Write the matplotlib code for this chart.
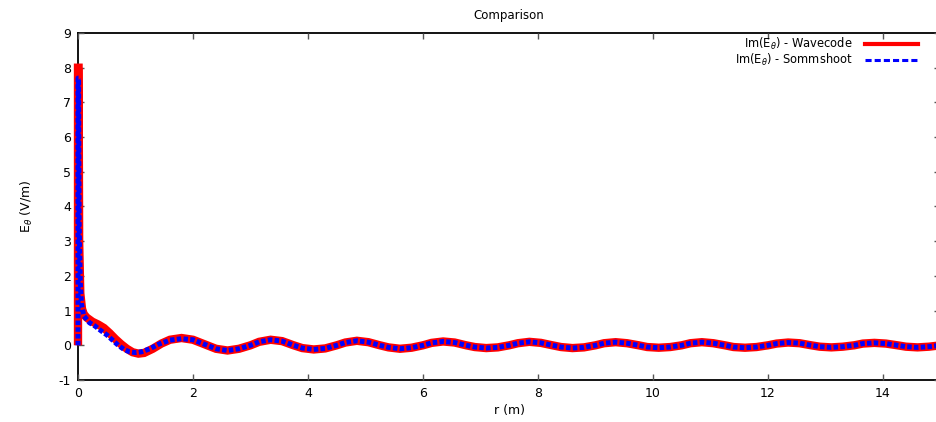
import matplotlib
matplotlib.use("Agg")
from matplotlib import pyplot as plt
from matplotlib.lines import Line2D

# Near-field part (r < 2 m), the two codes differ a bit here
r_wave_head = [0.0, 0.0, 0.01, 0.02, 0.04, 0.07, 0.1, 0.15, 0.25, 0.35, 0.45,
               0.55, 0.65, 0.75, 0.85, 0.95, 1.05, 1.15, 1.3, 1.45, 1.6, 1.8]
e_wave_head = [0.0, 8.0, 8.0, 3.0, 1.5, 1.05, 0.9, 0.8, 0.68, 0.6, 0.5,
               0.35, 0.18, 0.03, -0.1, -0.2, -0.24, -0.22, -0.1, 0.05, 0.16, 0.21]

r_somm_head = [0.0, 0.0, 0.01, 0.02, 0.04, 0.06, 0.1, 0.2, 0.3, 0.4, 0.5,
               0.6, 0.7, 0.8, 0.9, 1.0, 1.1, 1.25, 1.4, 1.6, 1.8]
e_somm_head = [0.0, 7.7, 7.7, 3.5, 1.8, 1.2, 0.85, 0.65, 0.55, 0.42, 0.3,
               0.15, 0.0, -0.12, -0.19, -0.21, -0.19, -0.1, 0.03, 0.15, 0.19]

# Far part (r >= 2 m), both curves lie on top of each other
r_tail = [2.0, 2.2, 2.4, 2.6, 2.8, 3.0, 3.15, 3.35, 3.55, 3.75, 3.9, 4.1, 4.3,
          4.5, 4.65, 4.85, 5.05, 5.25, 5.4, 5.6, 5.8, 6.0, 6.15, 6.35, 6.55,
          6.75, 6.9, 7.1, 7.3, 7.5, 7.65, 7.85, 8.05, 8.25, 8.4, 8.6, 8.8,
          9.0, 9.15, 9.35, 9.55, 9.75, 9.9, 10.1, 10.3, 10.5, 10.65, 10.85,
          11.05, 11.25, 11.4, 11.6, 11.8, 12.0, 12.15, 12.35, 12.55, 12.75,
          12.9, 13.1, 13.3, 13.5, 13.65, 13.85, 14.05, 14.25, 14.4, 14.6,
          14.8, 15.0]
e_tail = [0.16, 0.03, -0.1, -0.15, -0.1, 0.0, 0.1, 0.16, 0.12, 0.0, -0.08,
          -0.12, -0.09, 0.0, 0.08, 0.13, 0.09, 0.0, -0.06, -0.1, -0.07, 0.0,
          0.07, 0.11, 0.08, 0.0, -0.05, -0.08, -0.06, 0.0, 0.06, 0.1, 0.07,
          0.0, -0.05, -0.08, -0.06, 0.0, 0.06, 0.09, 0.06, 0.0, -0.05, -0.07,
          -0.05, 0.0, 0.06, 0.09, 0.06, 0.0, -0.05, -0.07, -0.05, 0.0, 0.05,
          0.08, 0.06, 0.0, -0.04, -0.06, -0.04, 0.0, 0.05, 0.07, 0.05, 0.0,
          -0.04, -0.06, -0.04, 0.0]

r_wave = r_wave_head + r_tail
e_wave = e_wave_head + e_tail
r_somm = r_somm_head + r_tail
e_somm = e_somm_head + e_tail

x_ticks = [0, 2, 4, 6, 8, 10, 12, 14]
y_ticks = [-1, 0, 1, 2, 3, 4, 5, 6, 7, 8, 9]

plt.rcParams["font.family"] = ["DejaVu Sans"]
plt.rcParams["font.size"] = 9
plt.rcParams["axes.unicode_minus"] = False

fig = plt.figure(figsize=(9.37, 4.22), dpi=100)
ax = fig.add_axes([78 / 937, 1 - 380 / 422, 862.5 / 937, 347 / 422])

# thick lines spill over the left border like in the original (gnuplot) plot
ax.plot(r_wave, e_wave, color="red", lw=6, solid_joinstyle="miter",
        solid_capstyle="butt", zorder=2, clip_on=False)
ax.plot(r_somm, e_somm, color="blue", lw=3.6, dashes=(0.9, 0.45),
        dash_capstyle="butt", zorder=3, clip_on=False)

ax.set_xlim(0, 15)
ax.set_ylim(-1, 9)
ax.set_xticks(x_ticks)
ax.set_yticks(y_ticks)
ax.tick_params(direction="in", top=True, right=True, length=4, width=1,
               color="#555555", labelsize=9, pad=5)
for s in ax.spines.values():
    s.set_linewidth(1.3)
    s.set_zorder(1)

ax.set_title("Comparison", fontsize=8.5, pad=10)
ax.set_xlabel("r (m)", fontsize=9, labelpad=3)
ax.set_ylabel(r"E$_\theta$ (V/m)", fontsize=9, labelpad=17)

handles = [Line2D([], [], color="red", lw=3),
           Line2D([], [], color="blue", lw=2.2, dashes=(2, 1))]
labels = [r"Im(E$_\theta$) - Wavecode", r"Im(E$_\theta$) - Sommshoot"]
ax.legend(handles, labels, loc="upper right", bbox_to_anchor=(918 / 937, 1 - 36 / 422),
          bbox_transform=fig.transFigure, frameon=False, markerfirst=False,
          handlelength=4.6, handletextpad=1.1, labelspacing=0.0,
          borderpad=0, borderaxespad=0, fontsize=8.3)

fig.savefig("out.png", dpi=100)
